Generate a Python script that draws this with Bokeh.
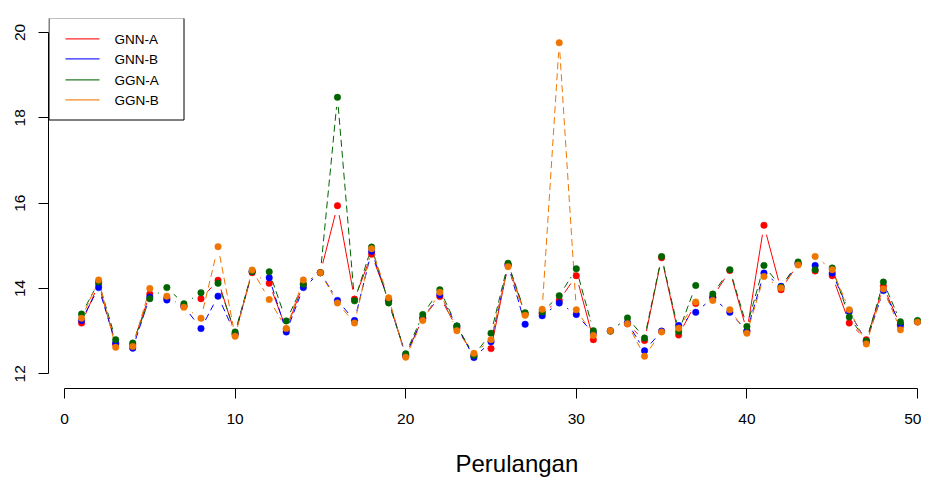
import math
from bokeh.plotting import figure
from bokeh.models import Range1d, Title, FixedTicker, ColumnDataSource, BoxAnnotation, Label
from bokeh.embed import file_html
from bokeh.resources import INLINE

# ---------------- data ----------------
iterasi = list(range(1, 51))

gnn_a = [13.19, 14.10, 12.69, 12.68, 13.87, 13.77, 13.60, 13.76, 14.19, 12.93,
         14.37, 14.12, 13.05, 14.10, 14.37, 15.94, 13.75, 14.80, 13.72, 12.43,
         13.30, 13.81, 13.07, 12.43, 12.59, 14.55, 13.40, 13.42, 13.72, 14.30,
         12.80, 13.00, 13.17, 12.78, 14.72, 12.91, 13.65, 13.80, 14.42, 13.00,
         15.48, 13.97, 14.58, 14.41, 14.30, 13.19, 12.80, 14.05, 13.12, 13.22]

gnn_b = [13.25, 14.02, 12.72, 12.60, 13.80, 13.73, 13.58, 13.06, 13.82, 12.93,
         14.40, 14.25, 12.98, 14.02, 14.37, 13.72, 13.25, 14.87, 13.72, 12.43,
         13.30, 13.85, 13.12, 12.38, 12.75, 14.55, 13.16, 13.36, 13.66, 13.39,
         12.95, 13.01, 13.20, 12.54, 13.00, 13.13, 13.44, 13.78, 13.44, 13.00,
         14.36, 14.05, 14.58, 14.54, 14.36, 13.46, 12.75, 13.95, 13.16, 13.22]

ggn_a = [13.40, 14.15, 12.80, 12.72, 13.76, 14.02, 13.64, 13.90, 14.12, 12.98,
         14.40, 14.39, 13.24, 14.10, 14.37, 18.48, 13.71, 14.97, 13.66, 12.47,
         13.39, 13.97, 13.12, 12.43, 12.95, 14.59, 13.43, 13.45, 13.83, 14.46,
         13.01, 13.00, 13.31, 12.84, 14.75, 12.99, 14.07, 13.87, 14.44, 13.11,
         14.54, 14.03, 14.62, 14.44, 14.48, 13.33, 12.77, 14.15, 13.22, 13.25]

ggn_b = [13.30, 14.20, 12.62, 12.64, 14.00, 13.82, 13.56, 13.30, 14.98, 12.88,
         14.43, 13.74, 13.06, 14.20, 14.37, 13.66, 13.19, 14.93, 13.78, 12.39,
         13.25, 13.91, 13.01, 12.48, 12.80, 14.51, 13.37, 13.51, 19.76, 13.50,
         12.90, 13.01, 13.17, 12.41, 12.98, 13.07, 13.68, 13.72, 13.50, 12.95,
         14.28, 14.01, 14.55, 14.75, 14.44, 13.50, 12.70, 13.99, 13.03, 13.21]

series_names = ["GNN-A", "GNN-B", "GGN-A", "GGN-B"]
x_ticks = [0, 10, 20, 30, 40, 50]
y_ticks = [12, 14, 16, 18, 20]

# ---------------- layout ----------------
FONT = "Liberation Sans"
FRAME_W, FRAME_H = 873, 370
PX_PER_X = 17.06
X0 = -0.938
X1 = X0 + FRAME_W / PX_PER_X
Y0, Y1 = 11.655, 20.328

p = figure(width=921, height=467, frame_width=FRAME_W, frame_height=FRAME_H,
           x_range=Range1d(X0, X1), y_range=Range1d(Y0, Y1),
           output_backend="svg", toolbar_location=None,
           min_border_left=48, min_border_right=0, min_border_top=18, min_border_bottom=79)
p.outline_line_color = None
p.xgrid.visible = False
p.ygrid.visible = False
p.background_fill_color = "white"

for ax in (p.xaxis[0], p.yaxis[0]):
    ax.major_tick_out = 10
    ax.major_tick_in = 0
    ax.minor_tick_line_color = None
    ax.axis_line_color = "#000000"
    ax.major_tick_line_color = "#000000"
    ax.major_label_text_font = FONT
    ax.major_label_text_font_size = "15.5px"
    ax.major_label_text_color = "#000000"

p.xaxis[0].ticker = FixedTicker(ticks=x_ticks)
p.xaxis[0].bounds = (0, 50)
p.xaxis[0].major_label_standoff = 15
p.yaxis[0].ticker = FixedTicker(ticks=y_ticks)
p.yaxis[0].bounds = (12, 20)
p.yaxis[0].major_label_orientation = "vertical"
p.yaxis[0].major_label_standoff = 13

title = Title(text="Perulangan", align="left", offset=407, text_font=FONT,
              text_font_size="24px", text_font_style="normal", text_color="#000000",
              standoff=42)
p.add_layout(title, "below")

# R type="b": line segments leave a gap around each point
GAP = 9.6
sxp = FRAME_W / (X1 - X0)
syp = FRAME_H / (Y1 - Y0)


def gapped(xs, ys):
    x0, y0, x1, y1 = [], [], [], []
    for i in range(len(xs) - 1):
        dx = xs[i + 1] - xs[i]
        dy = ys[i + 1] - ys[i]
        d = math.hypot(dx * sxp, dy * syp)
        f = GAP / d
        if f < 0.5:
            x0.append(xs[i] + f * dx)
            y0.append(ys[i] + f * dy)
            x1.append(xs[i + 1] - f * dx)
            y1.append(ys[i + 1] - f * dy)
    return dict(x0=x0, y0=y0, x1=x1, y1=y1)


colors = ["#FF0000", "#0000FF", "#006400", "#EE7600"]
dashes = ["solid", "7 4", "7 4", "7 4"]
all_series = [gnn_a, gnn_b, ggn_a, ggn_b]

for ys, c, dsh in zip(all_series, colors, dashes):
    src = ColumnDataSource(gapped(iterasi, ys))
    p.segment(x0="x0", y0="y0", x1="x1", y1="y1", source=src,
              line_color=c, line_width=1, line_dash=dsh)

for ys, c in zip(all_series, colors):
    p.scatter(iterasi, ys, size=6.5, fill_color=c, line_color=c, line_width=0.5)

# ---------------- legend (drawn as screen-space annotations) ----------------
SU = dict(left_units="screen", right_units="screen", top_units="screen", bottom_units="screen")
LEG_LEFT, LEG_RIGHT, LEG_TOP, LEG_BOTTOM = 0.5, 135.5, 370.5, 268.5
ROW0, ROW_STEP = 349, 20.3
p.add_layout(BoxAnnotation(left=LEG_LEFT, right=LEG_RIGHT, top=LEG_TOP, bottom=LEG_BOTTOM,
                           fill_color="white", fill_alpha=1.0, line_color="#000000",
                           line_width=1, line_alpha=1.0, **SU))
for i, (name, c) in enumerate(zip(series_names, colors)):
    yc = round(ROW0 - i * ROW_STEP)
    p.add_layout(BoxAnnotation(left=17, right=51, bottom=yc, top=yc + 1.2,
                               fill_color=c, fill_alpha=0.85, line_color=None, **SU))
    p.add_layout(Label(x=66, y=yc, x_units="screen", y_units="screen", text=name,
                       text_font=FONT, text_font_size="13.5px", text_color="#000000",
                       text_baseline="middle", text_align="left"))

open("out.html", "w").write(file_html(p, INLINE))
